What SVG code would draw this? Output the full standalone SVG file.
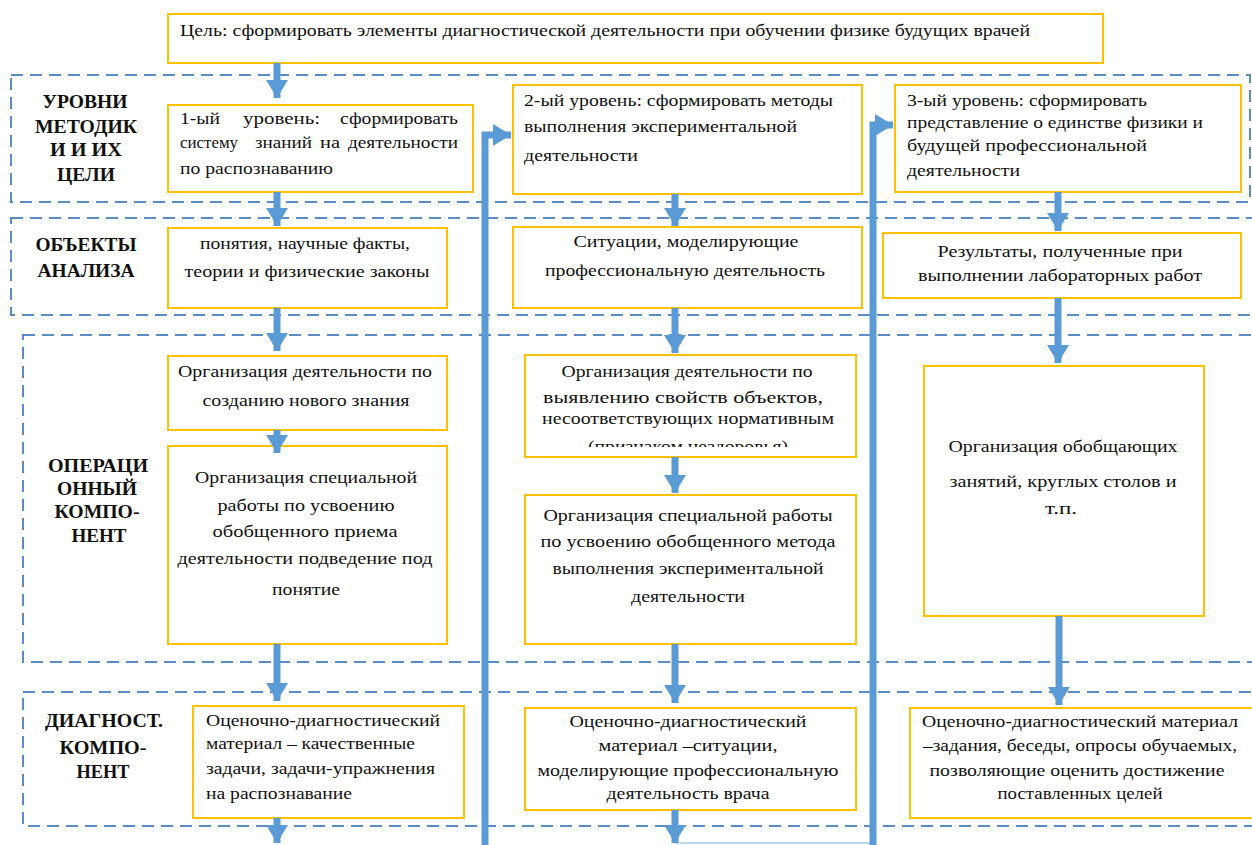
<svg xmlns="http://www.w3.org/2000/svg" width="1252" height="845" viewBox="0 0 1252 845">
<style>
.band{fill:none;stroke:#5B8CC4;stroke-width:2;stroke-dasharray:12 7}
.box{fill:#fff;stroke:#FFC000;stroke-width:2}
.t{font-family:'Liberation Serif','DejaVu Serif','Times New Roman',serif;font-size:16px;fill:#111}
.c{text-anchor:middle}
.lbl{font-family:'Liberation Serif','DejaVu Serif','Times New Roman',serif;font-size:18px;font-weight:bold;fill:#111;text-anchor:middle}
.ar{fill:none;stroke:#5B9BD5;stroke-width:7}
.thin{fill:none;stroke:#BDD7EE;stroke-width:2}
</style>
<defs>
<marker id="ah" markerUnits="userSpaceOnUse" markerWidth="24" markerHeight="24" viewBox="0 0 24 24" refX="20" refY="12" orient="auto">
<path d="M2,1 L20,12 L2,23 Z" fill="#5B9BD5"/>
</marker>
<clipPath id="clipOrg21"><rect x="520" y="350" width="340" height="97"/></clipPath>
</defs>
<rect width="1252" height="845" fill="#fff"/>

<g id="bands">
<rect class="band" x="11" y="75" width="1239" height="127"/>
<rect class="band" x="11" y="218" width="1255" height="97"/>
<rect class="band" x="23" y="335" width="1243" height="327"/>
<rect class="band" x="23" y="692" width="1243" height="134"/>
</g>

<g id="labels" font-family="Liberation Serif, serif">
<text class="lbl" x="85" y="108" textLength="85" lengthAdjust="spacingAndGlyphs">УРОВНИ</text>
<text class="lbl" x="86" y="133" textLength="102" lengthAdjust="spacingAndGlyphs">МЕТОДИК</text>
<text class="lbl" x="86" y="156" textLength="72" lengthAdjust="spacingAndGlyphs">И И ИХ</text>
<text class="lbl" x="86" y="181" textLength="58" lengthAdjust="spacingAndGlyphs">ЦЕЛИ</text>
<text class="lbl" x="86" y="251" textLength="101" lengthAdjust="spacingAndGlyphs">ОБЪЕКТЫ</text>
<text class="lbl" x="86" y="277" textLength="97" lengthAdjust="spacingAndGlyphs">АНАЛИЗА</text>
<text class="lbl" x="98" y="472" textLength="100" lengthAdjust="spacingAndGlyphs">ОПЕРАЦИ</text>
<text class="lbl" x="97" y="495" textLength="80" lengthAdjust="spacingAndGlyphs">ОННЫЙ</text>
<text class="lbl" x="97" y="518" textLength="85" lengthAdjust="spacingAndGlyphs">КОМПО-</text>
<text class="lbl" x="99" y="542" textLength="55" lengthAdjust="spacingAndGlyphs">НЕНТ</text>
<text class="lbl" x="104" y="727" textLength="118" lengthAdjust="spacingAndGlyphs">ДИАГНОСТ.</text>
<text class="lbl" x="103" y="754" textLength="87" lengthAdjust="spacingAndGlyphs">КОМПО-</text>
<text class="lbl" x="103" y="778" textLength="53" lengthAdjust="spacingAndGlyphs">НЕНТ</text>
</g>

<g id="goal">
<rect class="box" x="168" y="14" width="935" height="49"/>
<text class="t" x="180" y="36" textLength="850" lengthAdjust="spacingAndGlyphs">Цель: сформировать элементы диагностической деятельности при обучении физике будущих врачей</text>
</g>

<g id="level1">
<rect class="box" x="168" y="105" width="305" height="87"/>
<text class="t" y="124"><tspan x="180" textLength="40" lengthAdjust="spacingAndGlyphs">1-ый</tspan><tspan x="243" textLength="77" lengthAdjust="spacingAndGlyphs">уровень:</tspan><tspan x="340" textLength="118" lengthAdjust="spacingAndGlyphs">сформировать</tspan></text>
<text class="t" y="148"><tspan x="180" textLength="58" lengthAdjust="spacingAndGlyphs">систему</tspan><tspan x="255" textLength="57" lengthAdjust="spacingAndGlyphs">знаний</tspan><tspan x="320" textLength="20" lengthAdjust="spacingAndGlyphs">на</tspan><tspan x="348" textLength="110" lengthAdjust="spacingAndGlyphs">деятельности</tspan></text>
<text class="t" x="180" y="174" textLength="153" lengthAdjust="spacingAndGlyphs">по распознаванию</text>
</g>

<g id="level2">
<rect class="box" x="513" y="85" width="349" height="109"/>
<text class="t" x="524" y="106" textLength="309" lengthAdjust="spacingAndGlyphs">2-ый уровень: сформировать методы</text>
<text class="t" x="524" y="132" textLength="273" lengthAdjust="spacingAndGlyphs">выполнения экспериментальной</text>
<text class="t" x="524" y="161" textLength="114" lengthAdjust="spacingAndGlyphs">деятельности</text>
</g>

<g id="level3">
<rect class="box" x="895" y="85" width="346" height="107"/>
<text class="t" x="907" y="106" textLength="240" lengthAdjust="spacingAndGlyphs">3-ый уровень: сформировать</text>
<text class="t" x="907" y="128" textLength="296" lengthAdjust="spacingAndGlyphs">представление о единстве физики и</text>
<text class="t" x="907" y="151" textLength="240" lengthAdjust="spacingAndGlyphs">будущей профессиональной</text>
<text class="t" x="907" y="176" textLength="113" lengthAdjust="spacingAndGlyphs">деятельности</text>
</g>

<g id="objects1">
<rect class="box" x="168" y="228" width="279" height="80"/>
<text class="t c" x="305" y="249" textLength="210" lengthAdjust="spacingAndGlyphs">понятия, научные факты,</text>
<text class="t c" x="307" y="277" textLength="245" lengthAdjust="spacingAndGlyphs">теории  и физические законы</text>
</g>

<g id="objects2">
<rect class="box" x="513" y="227" width="349" height="81"/>
<text class="t c" x="686" y="247" textLength="225" lengthAdjust="spacingAndGlyphs">Ситуации, моделирующие</text>
<text class="t c" x="685" y="276" textLength="280" lengthAdjust="spacingAndGlyphs">профессиональную деятельность</text>
</g>

<g id="objects3">
<rect class="box" x="883" y="233" width="358" height="65"/>
<text class="t c" x="1060" y="257" textLength="245" lengthAdjust="spacingAndGlyphs">Результаты, полученные при</text>
<text class="t c" x="1060" y="281" textLength="284" lengthAdjust="spacingAndGlyphs">выполнении лабораторных работ</text>
</g>

<g id="org11">
<rect class="box" x="168" y="356" width="279" height="74"/>
<text class="t c" x="305" y="377" textLength="254" lengthAdjust="spacingAndGlyphs">Организация деятельности по</text>
<text class="t c" x="306" y="406" textLength="207" lengthAdjust="spacingAndGlyphs">созданию нового знания</text>
</g>

<g id="org12">
<rect class="box" x="168" y="446" width="279" height="198"/>
<text class="t c" x="306" y="483" textLength="222" lengthAdjust="spacingAndGlyphs">Организация специальной</text>
<text class="t c" x="306" y="511" textLength="177" lengthAdjust="spacingAndGlyphs">работы по усвоению</text>
<text class="t c" x="305" y="537" textLength="185" lengthAdjust="spacingAndGlyphs">обобщенного приема</text>
<text class="t c" x="305" y="564" textLength="255" lengthAdjust="spacingAndGlyphs">деятельности подведение под</text>
<text class="t c" x="306" y="595" textLength="68" lengthAdjust="spacingAndGlyphs">понятие</text>
</g>

<g id="org21">
<rect class="box" x="525" y="355" width="331" height="102"/>
<text class="t c" x="687" y="377" textLength="251" lengthAdjust="spacingAndGlyphs">Организация деятельности по</text>
<text class="t c" x="683" y="403" textLength="280" lengthAdjust="spacingAndGlyphs">выявлению свойств объектов,</text>
<text class="t c" x="688" y="424" textLength="292" lengthAdjust="spacingAndGlyphs">несоответствующих нормативным</text>
<text class="t c" x="688" y="452" textLength="200" lengthAdjust="spacingAndGlyphs" clip-path="url(#clipOrg21)">(признаком нездоровья)</text>
</g>

<g id="org22">
<rect class="box" x="525" y="495" width="331" height="149"/>
<text class="t c" x="688" y="521" textLength="289" lengthAdjust="spacingAndGlyphs">Организация специальной работы</text>
<text class="t c" x="688" y="547" textLength="295" lengthAdjust="spacingAndGlyphs">по усвоению обобщенного метода</text>
<text class="t c" x="688" y="574" textLength="271" lengthAdjust="spacingAndGlyphs">выполнения экспериментальной</text>
<text class="t c" x="688" y="602" textLength="114" lengthAdjust="spacingAndGlyphs">деятельности</text>
</g>

<g id="org3">
<rect class="box" x="924" y="366" width="280" height="250"/>
<text class="t c" x="1063" y="452" textLength="229" lengthAdjust="spacingAndGlyphs">Организация обобщающих</text>
<text class="t c" x="1063" y="487" textLength="227" lengthAdjust="spacingAndGlyphs">занятий, круглых столов и</text>
<text class="t c" x="1061" y="514" textLength="32" lengthAdjust="spacingAndGlyphs">т.п.</text>
</g>

<g id="diag1">
<rect class="box" x="193" y="706" width="271" height="112"/>
<text class="t" x="206" y="726" textLength="234" lengthAdjust="spacingAndGlyphs">Оценочно-диагностический</text>
<text class="t" x="206" y="749" textLength="209" lengthAdjust="spacingAndGlyphs">материал – качественные</text>
<text class="t" x="206" y="774" textLength="229" lengthAdjust="spacingAndGlyphs">задачи, задачи-упражнения</text>
<text class="t" x="206" y="799" textLength="146" lengthAdjust="spacingAndGlyphs">на распознавание</text>
</g>

<g id="diag2">
<rect class="box" x="525" y="708" width="331" height="102"/>
<text class="t c" x="688" y="727" textLength="237" lengthAdjust="spacingAndGlyphs">Оценочно-диагностический</text>
<text class="t c" x="688" y="751" textLength="179" lengthAdjust="spacingAndGlyphs">материал –ситуации,</text>
<text class="t c" x="688" y="776" textLength="301" lengthAdjust="spacingAndGlyphs">моделирующие профессиональную</text>
<text class="t c" x="688" y="799" textLength="163" lengthAdjust="spacingAndGlyphs">деятельность врача</text>
</g>

<g id="diag3">
<rect class="box" x="910" y="708" width="345" height="110"/>
<text class="t c" x="1080" y="727" textLength="316" lengthAdjust="spacingAndGlyphs">Оценочно-диагностический материал</text>
<text class="t c" x="1080" y="751" textLength="314" lengthAdjust="spacingAndGlyphs">–задания, беседы, опросы обучаемых,</text>
<text class="t c" x="1077" y="776" textLength="295" lengthAdjust="spacingAndGlyphs">позволяющие оценить достижение</text>
<text class="t c" x="1080" y="799" textLength="165" lengthAdjust="spacingAndGlyphs">поставленных целей</text>
</g>

<g id="connectors">
<path class="thin" d="M675,843 H873"/>
<path class="ar" marker-end="url(#ah)" d="M277,63 V98"/>
<path class="ar" marker-end="url(#ah)" d="M277,192 V226"/>
<path class="ar" marker-end="url(#ah)" d="M277,308 V351"/>
<path class="ar" marker-end="url(#ah)" d="M277,430 V453"/>
<path class="ar" marker-end="url(#ah)" d="M277,644 V701"/>
<path class="ar" marker-end="url(#ah)" d="M277,818 V843"/>
<path class="ar" marker-end="url(#ah)" d="M675,194 V226"/>
<path class="ar" marker-end="url(#ah)" d="M675,308 V353"/>
<path class="ar" marker-end="url(#ah)" d="M675,457 V493"/>
<path class="ar" marker-end="url(#ah)" d="M675,644 V703"/>
<path class="ar" marker-end="url(#ah)" d="M675,810 V843"/>
<path class="ar" marker-end="url(#ah)" d="M1058,192 V231"/>
<path class="ar" marker-end="url(#ah)" d="M1058,298 V363"/>
<path class="ar" marker-end="url(#ah)" d="M1059,616 V705"/>
<path class="ar" marker-end="url(#ah)" d="M485,850 V135 H511"/>
<path class="ar" marker-end="url(#ah)" d="M873,850 V125 H893"/>
</g>
</svg>
